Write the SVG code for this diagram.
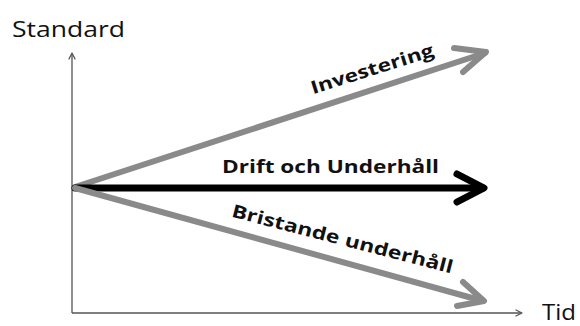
<svg xmlns="http://www.w3.org/2000/svg" width="580" height="326" viewBox="0 0 580 326">
<style>
.axis{stroke:#555;stroke-width:1.3;fill:none}
.ax-head{stroke:#555;stroke-width:1.3;fill:none;stroke-linecap:round;stroke-linejoin:round}
.gray{stroke:#8a8a8a;stroke-width:6;fill:none;stroke-linecap:round;stroke-linejoin:round}
.black{stroke:#000;stroke-width:7;fill:none;stroke-linecap:round;stroke-linejoin:round}
.axlbl{font-family:"Open Sans","DejaVu Sans",sans-serif;font-size:22px;fill:#111}
.lbl{font-family:"Open Sans","DejaVu Sans",sans-serif;font-size:18px;font-weight:bold;fill:#111}
</style>
<rect width="580" height="326" fill="#fff"/>
<g id="axes">
<path class="axis" d="M72,313 V54 M72,313 H521"/>
<path class="ax-head" d="M69,59 L72,53 L75,59 M516,310 L522,313 L516,316"/>
<text class="axlbl" x="12" y="37" textLength="113" lengthAdjust="spacingAndGlyphs">Standard</text>
<text class="axlbl" x="542" y="320" font-size="20" textLength="34" lengthAdjust="spacingAndGlyphs">Tid</text>
</g>
<g id="connectors">
<g id="investering">
<path class="gray" d="M75,187 L485,53"/>
<path class="gray" d="M454,48 L486,52 L463,72"/>
</g>
<g id="drift">
<path class="black" d="M75,188 L483,188"/>
<path class="black" d="M457,174 L484,188 L457,202"/>
</g>
<g id="bristande">
<path class="gray" d="M75,188 L483,301"/>
<path class="gray" d="M463,282 L484,301 L457,306"/>
</g>
</g>
<g id="labels">
<text class="lbl" transform="translate(374,75) rotate(-17.5)" text-anchor="middle" textLength="128" lengthAdjust="spacingAndGlyphs">Investering</text>
<text class="lbl" x="222" y="173" textLength="217" lengthAdjust="spacingAndGlyphs">Drift och Underhåll</text>
<text class="lbl" transform="translate(341,245) rotate(14.5)" text-anchor="middle" textLength="228" lengthAdjust="spacingAndGlyphs">Bristande underhåll</text>
</g>
</svg>
